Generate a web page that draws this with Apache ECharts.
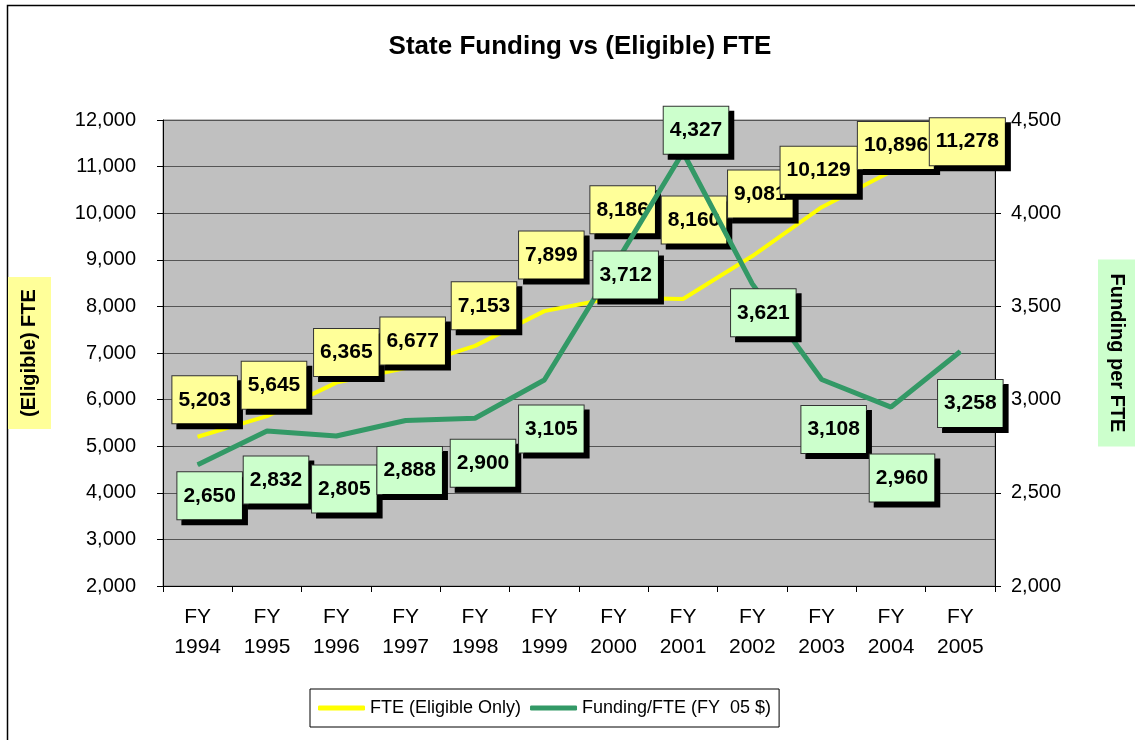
<!DOCTYPE html>
<html>
<head>
<meta charset="utf-8">
<script src="https://cdn.jsdelivr.net/npm/echarts@6/dist/echarts.min.js"></script>
<style>
  html, body { margin: 0; padding: 0; background: #fff; }
  #chart { width: 1135px; height: 740px; }
</style>
</head>
<body>
<div id="chart"></div>
<script>
// data
var years = ['1994', '1995', '1996', '1997', '1998', '1999', '2000', '2001', '2002', '2003', '2004', '2005'];
var fte = [5203, 5645, 6365, 6677, 7153, 7899, 8186, 8160, 9081, 10129, 10896, 11278];
var funding = [2650, 2832, 2805, 2888, 2900, 3105, 3712, 4327, 3621, 3108, 2960, 3258];
var leftTicks = { min: 2000, max: 12000, step: 1000 };
var rightTicks = { min: 2000, max: 4500, step: 500 };

// where each data label box sits relative to its point (layout only)
var fteLabelOffsets = [[7, -37], [7, -31], [10, -30], [7, -27], [9, -40], [7, -56], [9, -88], [11, -79], [8, -62], [-3, -37], [5, -26], [7, -12]];
var fundLabelOffsets = [[12, 31], [9, 49], [8, 53], [4, 50], [8, 45], [7, 49], [12, 8], [13, -22], [11, 29], [12, 50], [11, 71], [10, 52]];

var FONT = 'Liberation Sans, Arial, sans-serif';

function fmt(v) {
	return Number(v).toLocaleString('en-US');
}

function withOffsets(values, offsets) {
	var out = [];
	for (var i = 0; i < values.length; i++) {
		out.push({ value: values[i], label: { offset: offsets[i] } });
	}
	return out;
}

function boxLabel(bg) {
	return {
		show: true,
		position: 'inside',
		formatter: function (p) { return fmt(p.value); },
		fontFamily: FONT,
		fontWeight: 'bold',
		fontSize: 21,
		color: '#000',
		lineHeight: 23,
		backgroundColor: bg,
		borderColor: '#333',
		borderWidth: 1,
		padding: [12, 6],
		shadowColor: '#000',
		shadowBlur: 0,
		shadowOffsetX: 5,
		shadowOffsetY: 5
	};
}

var chart = echarts.init(document.getElementById('chart'));

var option = {
	backgroundColor: '#fff',
	animation: false,
	title: {
		text: 'State Funding vs (Eligible) FTE',
		left: 575,
		textAlign: 'center',
		top: 29,
		textStyle: { fontFamily: FONT, fontWeight: 'bold', fontSize: 26, color: '#000' }
	},
	legend: {
		left: 310,
		top: 689,
		padding: [10, 8],
		itemGap: 9,
		itemWidth: 47,
		itemHeight: 5,
		icon: 'roundRect',
		borderColor: '#000',
		borderWidth: 1,
		textStyle: { fontFamily: FONT, fontSize: 18, color: '#000' },
		data: ['FTE (Eligible Only)', 'Funding/FTE (FY  05 $)']
	},
	graphic: [{
		type: 'rect',
		shape: { x: 7.5, y: 5.5, width: 1200, height: 800 },
		style: { fill: 'none', stroke: '#000', lineWidth: 1.5 },
		silent: true,
		z: -1
	}],
	grid: {
		left: 163,
		right: 140,
		top: 120,
		bottom: 154,
		outerBoundsMode: 'none',
		containLabel: false,
		show: true,
		backgroundColor: '#c0c0c0',
		borderColor: '#808080',
		borderWidth: 1
	},
	xAxis: {
		type: 'category',
		boundaryGap: true,
		data: years,
		axisLine: { lineStyle: { color: '#000', width: 1 } },
		axisTick: { show: true, length: 6, lineStyle: { color: '#000' } },
		axisLabel: {
			margin: 16,
			fontFamily: FONT,
			fontSize: 21,
			lineHeight: 30,
			color: '#000',
			formatter: function (v) { return 'FY\n' + v; }
		}
	},
	yAxis: [{
		type: 'value',
		min: leftTicks.min,
		max: leftTicks.max,
		interval: leftTicks.step,
		position: 'left',
		name: '(Eligible) FTE',
		nameLocation: 'middle',
		nameRotate: 90,
		nameGap: 112,
		nameTextStyle: {
			fontFamily: FONT, fontWeight: 'bold', fontSize: 20, color: '#000',
			backgroundColor: '#ffff99', padding: [10, 12], lineHeight: 23
		},
		axisLine: { show: true, lineStyle: { color: '#000' } },
		axisTick: { show: true, length: 6, lineStyle: { color: '#000' } },
		splitLine: { show: true, lineStyle: { color: '#555', width: 1 } },
		axisLabel: {
			margin: 27, fontFamily: FONT, fontSize: 20, color: '#000',
			formatter: fmt
		}
	}, {
		type: 'value',
		min: rightTicks.min,
		max: rightTicks.max,
		interval: rightTicks.step,
		position: 'right',
		name: 'Funding per FTE',
		nameLocation: 'middle',
		nameRotate: -90,
		nameGap: 103,
		nameTextStyle: {
			fontFamily: FONT, fontWeight: 'bold', fontSize: 20, color: '#000',
			backgroundColor: '#ccffcc', padding: [10, 14], lineHeight: 17
		},
		axisLine: { show: true, lineStyle: { color: '#000' } },
		axisTick: { show: true, length: 6, lineStyle: { color: '#000' } },
		splitLine: { show: false },
		axisLabel: {
			margin: 16, fontFamily: FONT, fontSize: 20, color: '#000',
			formatter: fmt
		}
	}],
	series: [{
		name: 'FTE (Eligible Only)',
		type: 'line',
		yAxisIndex: 0,
		data: withOffsets(fte, fteLabelOffsets),
		symbol: 'circle',
		symbolSize: 1,
		itemStyle: { color: '#ffff00' },
		lineStyle: { color: '#ffff00', width: 4 },
		label: boxLabel('#ffff99'),
		z: 3
	}, {
		name: 'Funding/FTE (FY  05 $)',
		type: 'line',
		yAxisIndex: 1,
		data: withOffsets(funding, fundLabelOffsets),
		symbol: 'circle',
		symbolSize: 1,
		itemStyle: { color: '#339966' },
		lineStyle: { color: '#339966', width: 5 },
		label: boxLabel('#ccffcc'),
		z: 4
	}]
};

chart.setOption(option);
</script>
</body>
</html>
